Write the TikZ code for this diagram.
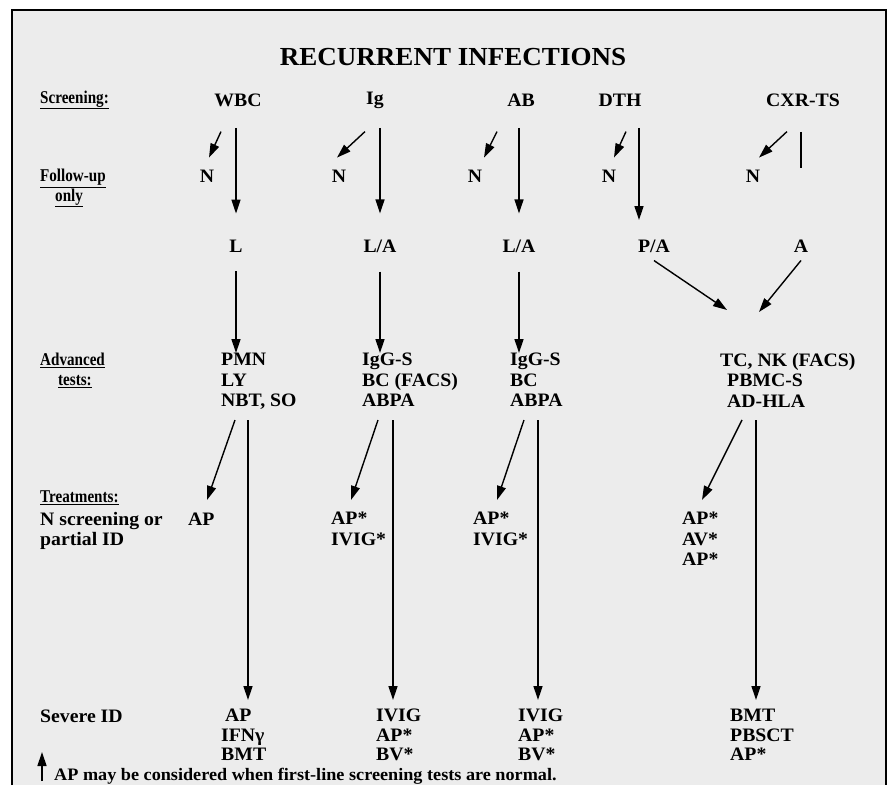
\documentclass[tikz,border=0pt]{standalone}
\usepackage{fontspec}
\setmainfont{Liberation Serif}[FakeStretch=1.04]
\newfontfamily\narrowfont{Liberation Serif}[FakeStretch=0.84]
\usetikzlibrary{arrows.meta}
\definecolor{paper}{RGB}{236,236,236}

\tikzset{
  txt/.style={font=\fontsize{19}{20.5}\selectfont\bfseries, inner sep=0pt, align=left},
  row/.style={txt, anchor=west},
  stack/.style={txt, anchor=north west},
  head/.style={row, font=\fontsize{18}{19.5}\selectfont\narrowfont\bfseries},
  lead/.style={-{Triangle[length=14pt,width=9pt]}, line width=1.4pt},
  bar/.style={line width=1.6pt}
}

\begin{document}
\begin{tikzpicture}[x=1pt,y=-1pt]
	% paper
	\fill[white] (0,0) rectangle (888,785);
	\fill[paper] (12,10) rectangle (886,785);
	\draw[line width=2.5pt] (12,785) -- (12,10) -- (886,10) -- (886,785);

	% title
	\node[txt, font=\fontsize{26}{28}\selectfont\bfseries] (title) at (453,57) {RECURRENT INFECTIONS};

	% row labels
	\node[head] (scr) at (40,100) {\underline{Screening:}};
	\node[head, anchor=north west] (fup) at (40,169) {\underline{Follow-up}\\\hspace{15pt}\underline{only}};
	\node[head, anchor=north west] (adv) at (40,353) {\underline{Advanced}\\\hspace{18pt}\underline{tests:}};
	\node[head] (trt) at (40,498) {\underline{Treatments:}};
	\node[stack] (trtx) at (40,512) {N screening or\\partial ID};
	\node[row] (sev) at (40,716) {Severe ID};

	% screening
	\node[txt] (wbc) at (238,100) {WBC};
	\node[txt] (ig) at (375,100) {Ig};
	\node[txt] (ab) at (521,100) {AB};
	\node[txt] (dth) at (620,100) {DTH};
	\node[txt] (cxr) at (803,100) {CXR-TS};

	% follow-up
	\node[txt] (n1) at (207,176) {N};
	\node[txt] (n2) at (339,176) {N};
	\node[txt] (n3) at (475,176) {N};
	\node[txt] (n4) at (609,176) {N};
	\node[txt] (n5) at (753,176) {N};

	\node[txt] (l1) at (236,246) {L};
	\node[txt] (la2) at (380,246) {L/A};
	\node[txt] (la3) at (519,246) {L/A};
	\node[txt] (pa4) at (654,246) {P/A};
	\node[txt] (a5) at (801,246) {A};
	\coordinate (c4) at (639,246);

	% advanced tests
	\node[stack] (adv1) at (221,353) {PMN\\LY\\NBT, SO};
	\node[stack] (adv2) at (362,353) {IgG-S\\BC (FACS)\\ABPA};
	\node[stack] (adv3) at (510,353) {IgG-S\\BC\\ABPA};
	\node[stack] (adv4) at (720,353) {TC, NK (FACS)\\\hspace{7pt}PBMC-S\\\hspace{7pt}AD-HLA};

	% treatments
	\node[row] (tr1) at (188,519) {AP};
	\node[stack] (tr2) at (331,512) {AP*\\IVIG*};
	\node[stack] (tr3) at (473,512) {AP*\\IVIG*};
	\node[stack] (tr4) at (682,512) {AP*\\AV*\\AP*};

	% severe
	\node[stack, font=\fontsize{19}{19.5}\selectfont\bfseries] (sv1) at (221,709) {\hspace{4pt}AP\\IFNγ\\BMT};
	\node[stack, font=\fontsize{19}{19.5}\selectfont\bfseries] (sv2) at (376,709) {IVIG\\AP*\\BV*};
	\node[stack, font=\fontsize{19}{19.5}\selectfont\bfseries] (sv3) at (518,709) {IVIG\\AP*\\BV*};
	\node[stack, font=\fontsize{19}{19.5}\selectfont\bfseries] (sv4) at (730,709) {BMT\\PBSCT\\AP*};

	% footnote
	\node[row, font=\fontsize{17.5}{19}\selectfont\bfseries] (foot) at (54,776) {AP may be considered when first-line screening tests are normal.};

	% screening to follow-up
	\draw[lead] ([xshift=14pt,yshift=38pt]n1.north) -- ([xshift=2pt,yshift=12pt]n1.north);
	\draw[lead] ([xshift=26pt,yshift=38pt]n2.north) -- ([xshift=-2pt,yshift=12pt]n2.north);
	\draw[lead] ([xshift=22pt,yshift=38pt]n3.north) -- ([xshift=9pt,yshift=12pt]n3.north);
	\draw[lead] ([xshift=17pt,yshift=38pt]n4.north) -- ([xshift=5pt,yshift=12pt]n4.north);
	\draw[lead] ([xshift=34pt,yshift=38pt]n5.north) -- ([xshift=6pt,yshift=12pt]n5.north);

	\draw[lead, shorten <=28pt, shorten >=26pt] (l1 |- wbc) -- (l1);
	\draw[lead, shorten <=28pt, shorten >=26pt] (la2 |- ig) -- (la2);
	\draw[lead, shorten <=28pt, shorten >=26pt] (la3 |- ab) -- (la3);
	\draw[lead, shorten <=28pt, shorten >=26pt] (c4 |- dth) -- (c4);
	\draw[bar, shorten <=32pt, shorten >=72pt] (a5 |- cxr) -- (a5);

	% follow-up to advanced tests
	\draw[lead, shorten <=19pt] (l1) -- (l1 |- adv1.north);
	\draw[lead, shorten <=19pt] (la2) -- (la2 |- adv2.north);
	\draw[lead, shorten <=19pt] (la3) -- (la3 |- adv3.north);
	\draw[lead] ([yshift=-8pt]pa4.south) -- ([xshift=7pt,yshift=43pt]adv4.north west);
	\draw[lead] ([yshift=-8pt]a5.south) -- ([xshift=39pt,yshift=41pt]adv4.north west);

	% advanced tests to treatments
	\draw[lead] ([xshift=14pt,yshift=-67pt]adv1.north west) -- ([xshift=19pt,yshift=19pt]tr1.west);
	\draw[lead] ([xshift=16pt,yshift=-67pt]adv2.north west) -- ([xshift=20pt,yshift=12pt]tr2.north west);
	\draw[lead] ([xshift=14pt,yshift=-67pt]adv3.north west) -- ([xshift=24pt,yshift=12pt]tr3.north west);
	\draw[lead] ([xshift=22pt,yshift=-67pt]adv4.north west) -- ([xshift=20pt,yshift=12pt]tr4.north west);

	% advanced tests to severe
	\draw[lead] ([xshift=27pt,yshift=-67pt]adv1.north west) -- ([xshift=27pt,yshift=9pt]sv1.north west);
	\draw[lead] ([xshift=31pt,yshift=-67pt]adv2.north west) -- ([xshift=17pt,yshift=9pt]sv2.north west);
	\draw[lead] ([xshift=28pt,yshift=-67pt]adv3.north west) -- ([xshift=20pt,yshift=9pt]sv3.north west);
	\draw[lead] ([xshift=36pt,yshift=-67pt]adv4.north west) -- ([xshift=26pt,yshift=9pt]sv4.north west);

	% footnote mark
	\draw[lead] ([xshift=-12pt,yshift=-5pt]foot.west) -- ([xshift=-12pt,yshift=24pt]foot.west);
\end{tikzpicture}
\end{document}
